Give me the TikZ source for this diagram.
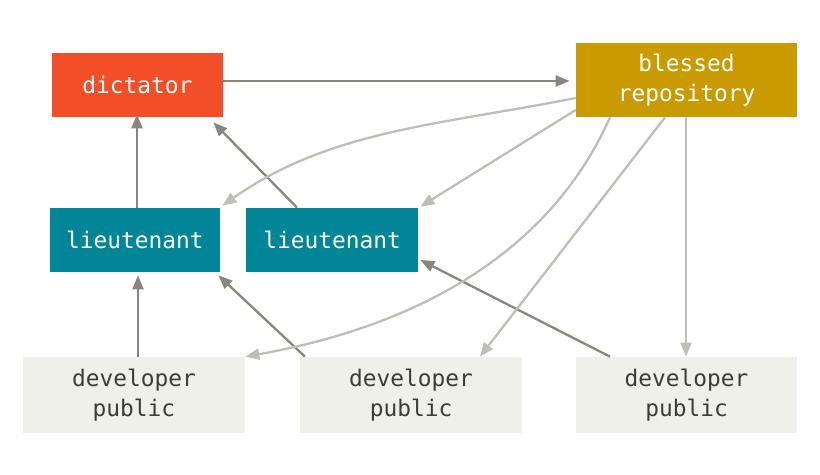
\documentclass[tikz,border=0pt]{standalone}
\usepackage{fontspec}
\setmonofont{DejaVu Sans Mono}
\usetikzlibrary{arrows.meta}
\definecolor{dictred}{RGB}{242,78,40}
\definecolor{blessgold}{RGB}{201,155,0}
\definecolor{ltteal}{RGB}{0,134,150}
\definecolor{devbg}{RGB}{240,240,234}
\definecolor{darkarr}{RGB}{138,134,127}
\definecolor{lightarr}{RGB}{192,189,184}
\definecolor{devtext}{RGB}{60,60,55}
\begin{document}
\begin{tikzpicture}[
                x=0.02cm, y=-0.02cm,
                every node/.style={
                    rectangle,
                    inner sep=0pt,
                    align=center,
                    font=\ttfamily\fontsize{13}{17}\selectfont
                },
                box/.style={minimum width=#1*0.02cm},
                boss/.style={fill=dictred, text=white, minimum height=1.28cm},
                repo/.style={fill=blessgold, text=white, minimum height=1.48cm},
                lt/.style={fill=ltteal, text=white, minimum height=1.28cm},
                dev/.style={fill=devbg, text=devtext, minimum height=1.52cm},
                arrow/.style={-{Triangle[length=0.28cm,width=0.22cm]}, line width=1.3pt, darkarr},
                pull/.style={-{Triangle[length=0.28cm,width=0.22cm]}, line width=1.3pt, lightarr}
            ]
                \useasboundingbox (0,0) rectangle (820,475);
                % nodes
                \node[boss, box=171] (dict) at (137.5,85) {dictator};
                \node[repo, box=221] (bless) at (686.5,80) {blessed\\repository};
                \node[lt, box=170] (lt1) at (135,240) {lieutenant};
                \node[lt, box=172] (lt2) at (332,240) {lieutenant};
                \node[dev, box=222] (dev1) at (134,395) {developer\\public};
                \node[dev, box=222] (dev2) at (411,395) {developer\\public};
                \node[dev, box=221] (dev3) at (686.5,395) {developer\\public};

                % pushes
                \draw[arrow] (dict.east |- 0,81) -- ([xshift=-0.12cm]bless.west |- 0,81);
                \draw[arrow] (lt1.north -| 137,0) -- ([yshift=0.06cm]dict.south -| 137,0);
                \draw[arrow] (lt2.north -| 297,0) -- ([xshift=-0.2cm,yshift=-0.1cm]dict.south east);
                \draw[arrow] (dev1.north -| 138,0) -- ([yshift=-0.06cm]lt1.south -| 138,0);
                \draw[arrow] (dev2.north -| 305,0) -- ([xshift=-0.04cm,yshift=-0.06cm]lt1.south east);
                \draw[arrow] (dev3.north -| 610,0) -- ([xshift=0.04cm]lt2.east |- 0,260);

                % pulls
                \draw[pull] (bless.west |- 0,98) .. controls (440,125) and (330,130) .. ([xshift=0.04cm,yshift=0.04cm]lt1.north east);
                \draw[pull] (bless.west |- 0,110) -- ([xshift=0.04cm,yshift=0.02cm]lt2.north east);
                \draw[pull] (bless.south -| 610,0) .. controls (560,230) and (450,320) .. (dev1.north east);
                \draw[pull] (bless.south -| 665,0) -- (dev2.north -| 480,0);
                \draw[pull] (bless.south -| 686,0) -- (dev3.north -| 686,0);
\end{tikzpicture}
\end{document}
